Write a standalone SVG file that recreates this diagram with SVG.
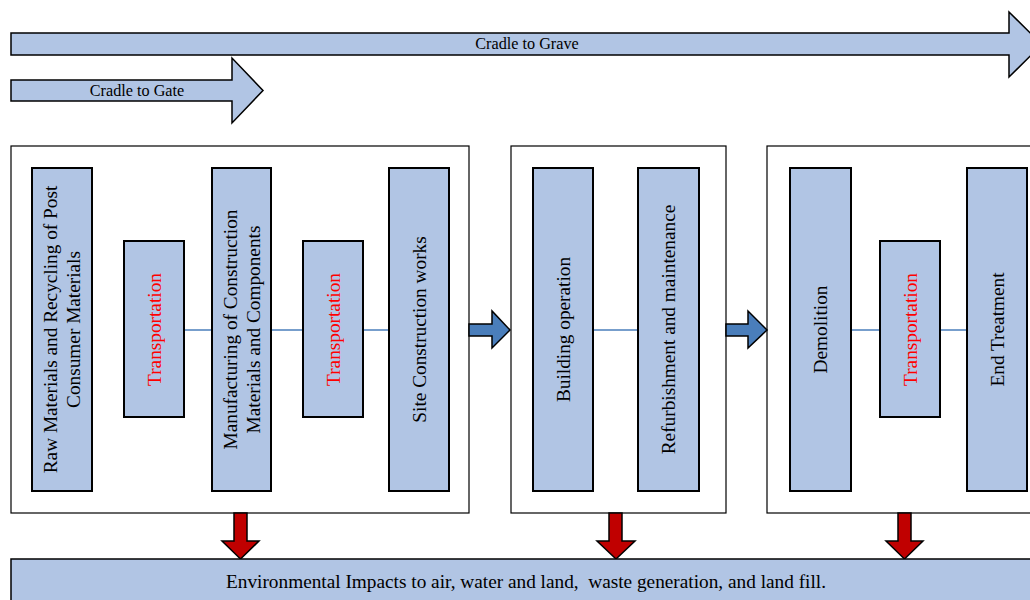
<svg xmlns="http://www.w3.org/2000/svg" width="1030" height="600" viewBox="0 0 1030 600">
<style>
.bg{fill:#ffffff}
.frame{fill:#ffffff;stroke:#000;stroke-width:1.2}
.node{fill:#b1c5e4;stroke:#000;stroke-width:2}
.big{fill:#b1c5e4;stroke:#000;stroke-width:1.5}
.t{font-family:"Liberation Serif","Times New Roman",serif;font-size:19.3px;fill:#000;text-anchor:middle;dominant-baseline:central}
.red{fill:#ff0000}
.h{font-family:"Liberation Serif","Times New Roman",serif;font-size:16.2px;fill:#000;text-anchor:middle;dominant-baseline:central}
.b{font-family:"Liberation Serif","Times New Roman",serif;font-size:19.3px;fill:#000;text-anchor:middle;dominant-baseline:central}
.link{stroke:#4a7ebb;stroke-width:1.5;fill:none}
.flow{fill:#4a7ebb;stroke:#000;stroke-width:1.5}
.imp{fill:#c00000;stroke:#000;stroke-width:1.5}
</style>
<rect class="bg" width="1030" height="600"/>
<g id="cradle-to-grave">
<path class="big" d="M11,33 H1009 V12 L1042,44.5 L1009,77 V55 H11 Z"/>
<text class="h" x="527" y="44">Cradle to Grave</text>
</g>
<g id="cradle-to-gate">
<path class="big" d="M11,80 H232 V58 L263,90.5 L232,123 V101 H11 Z"/>
<text class="h" x="137" y="91">Cradle to Gate</text>
</g>
<g id="stage-production"><rect class="frame" x="11" y="146" width="458" height="367"/></g>
<g id="stage-use"><rect class="frame" x="511" y="146" width="215" height="367"/></g>
<g id="stage-end"><rect class="frame" x="767" y="146" width="280" height="367"/></g>
<g id="connectors">
<line class="link" x1="184" y1="330" x2="212" y2="330"/>
<line class="link" x1="271" y1="330" x2="303" y2="330"/>
<line class="link" x1="363" y1="330" x2="389" y2="330"/>
<line class="link" x1="593" y1="330" x2="638" y2="330"/>
<line class="link" x1="851" y1="330" x2="880" y2="330"/>
<line class="link" x1="940" y1="330" x2="967" y2="330"/>
<path class="flow" d="M469,324 H492 V311 L510,330 L492,348 V336 H469 Z"/>
<path class="flow" d="M726,324 H748 V311 L767,330 L748,348 V336 H726 Z"/>
<path class="imp" d="M234,513 H247 V541 H259 L240.5,559 L222,541 H234 Z"/>
<path class="imp" d="M609,513 H622 V541 H635 L616,559 L597,541 H609 Z"/>
<path class="imp" d="M898,513 H911 V541 H923 L904.5,559 L886,541 H898 Z"/>
</g>
<g id="raw-materials">
<rect class="node" x="32" y="168" width="60" height="323"/>
<text class="t" transform="translate(50.5,329.5) rotate(-90)">Raw Materials and Recycling of Post</text>
<text class="t" transform="translate(73.5,329.5) rotate(-90)">Consumer Materials</text>
</g>
<g id="transport-1">
<rect class="node" x="124" y="241" width="60" height="176"/>
<text class="t red" transform="translate(154,329.5) rotate(-90)">Transportation</text>
</g>
<g id="manufacturing">
<rect class="node" x="212" y="168" width="59" height="323"/>
<text class="t" transform="translate(230,329.5) rotate(-90)">Manufacturing of Construction</text>
<text class="t" transform="translate(253,329.5) rotate(-90)">Materials and Components</text>
</g>
<g id="transport-2">
<rect class="node" x="303" y="241" width="60" height="176"/>
<text class="t red" transform="translate(333,329.5) rotate(-90)">Transportation</text>
</g>
<g id="site-construction">
<rect class="node" x="389" y="168" width="60" height="323"/>
<text class="t" transform="translate(419,329.5) rotate(-90)">Site Construction works</text>
</g>
<g id="building-operation">
<rect class="node" x="533" y="168" width="60" height="323"/>
<text class="t" transform="translate(563,329.5) rotate(-90)">Building operation</text>
</g>
<g id="refurbishment">
<rect class="node" x="638" y="168" width="61" height="323"/>
<text class="t" transform="translate(668.5,329.5) rotate(-90)">Refurbishment and maintenance</text>
</g>
<g id="demolition">
<rect class="node" x="790" y="168" width="61" height="323"/>
<text class="t" transform="translate(820.5,329.5) rotate(-90)">Demolition</text>
</g>
<g id="transport-3">
<rect class="node" x="880" y="241" width="60" height="176"/>
<text class="t red" transform="translate(910,329.5) rotate(-90)">Transportation</text>
</g>
<g id="end-treatment">
<rect class="node" x="967" y="168" width="60" height="323"/>
<text class="t" transform="translate(997,329.5) rotate(-90)">End Treatment</text>
</g>
<g id="environmental-impacts">
<rect class="big" x="11" y="559" width="1040" height="60"/>
<text class="b" x="526" y="581" xml:space="preserve">Environmental Impacts to air, water and land,  waste generation, and land fill.</text>
</g>
</svg>
